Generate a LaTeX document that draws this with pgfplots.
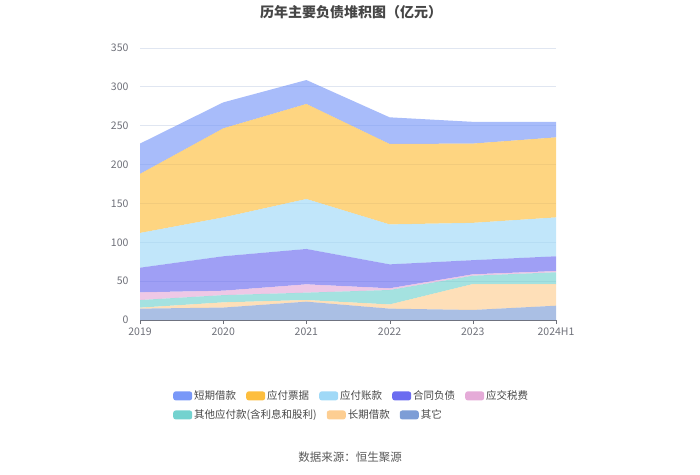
\documentclass[border=0pt]{standalone}
\usepackage{fontspec}
\setmainfont{Noto Sans CJK SC}
\usepackage{pgfplots}
\usepackage{pgfplotstable}
\pgfplotsset{compat=1.18}

\definecolor{cdq}{RGB}{121,152,248}
\definecolor{cpj}{RGB}{253,190,62}
\definecolor{czk}{RGB}{160,217,247}
\definecolor{cht}{RGB}{107,108,240}
\definecolor{csf}{RGB}{229,171,216}
\definecolor{cqy}{RGB}{115,210,207}
\definecolor{ccq}{RGB}{253,206,146}
\definecolor{cqt}{RGB}{125,157,214}
\definecolor{axisgray}{RGB}{110,112,121}
\definecolor{gridgray}{RGB}{224,230,241}
\definecolor{titlegray}{RGB}{70,70,70}

% stacked bottom to top: qita, changqi, qtyf, sf, ht, zk, pj, dq
\pgfplotstableread{
x  qita  changqi  qtyf  sf    ht    zk    pj     dq
0  14.6  1.3      9.8   9.9   31.7  44.7  76.0   39.0
1  16.0  6.7      9.3   5.7   44.3  50.0  114.6  33.4
2  23.6  2.1      9.5   10.7  45.5  64.3  122.3  30.8
3  14.6  5.4      18.6  2.2   30.8  51.4  103.5  34.3
4  12.9  33.4     10.7  1.8   18.2  48.0  102.0  28.0
5  18.4  27.9     15.1  1.6   19.0  50.0  103.0  20.0
}\liab

\pgfplotsset{
  legbox/.style={
    legend image code/.code={\fill[##1,draw=none,rounded corners=2.5pt] (0pt,-4.5pt) rectangle (19pt,4.5pt);},
  },
}

\begin{document}
\begin{tikzpicture}[x=1pt,y=1pt]
\useasboundingbox (0,0) rectangle (700,474);
\begin{axis}[
  at={(140pt,154pt)}, anchor=south west,
  width=416pt, height=272pt, scale only axis,
  xmin=0, xmax=5, ymin=0, ymax=350,
  xtick={0,...,5},
  xticklabels={2019,2020,2021,2022,2023,2024H1},
  ytick={0,50,...,350},
  stack plots=y,
  axis x line=bottom, axis y line=left,
  axis line style={-},
  y axis line style={draw=none},
  x axis line style={color=axisgray},
  ymajorgrids, grid style={color=gridgray, line width=0.8pt},
  tick align=outside, major tick length=4pt,
  xtick style={color=axisgray},
  ytick style={draw=none},
  ticklabel style={font=\fontsize{10.5}{12}\selectfont, text=axisgray},
  yticklabel style={xshift=-4pt},
  /pgf/number format/assume math mode=true,
  legbox,
  legend style={at={(axis description cs:0.0793,-0.279)}, anchor=west,
    draw=none, fill=none, inner sep=0pt,
    font=\fontsize{10.5}{12}\selectfont, text=black!72,
    legend columns=5,
    /tikz/every even column/.append style={column sep=8pt}},
]
\addplot[fill=cqt, fill opacity=0.65, draw=none, forget plot] table[x=x, y=qita] {\liab} \closedcycle;
\addplot[fill=ccq, fill opacity=0.65, draw=none, forget plot] table[x=x, y=changqi] {\liab} \closedcycle;
\addplot[fill=cqy, fill opacity=0.65, draw=none, forget plot] table[x=x, y=qtyf] {\liab} \closedcycle;
\addplot[fill=csf, fill opacity=0.65, draw=none, forget plot] table[x=x, y=sf] {\liab} \closedcycle;
\addplot[fill=cht, fill opacity=0.65, draw=none, forget plot] table[x=x, y=ht] {\liab} \closedcycle;
\addplot[fill=czk, fill opacity=0.65, draw=none, forget plot] table[x=x, y=zk] {\liab} \closedcycle;
\addplot[fill=cpj, fill opacity=0.65, draw=none, forget plot] table[x=x, y=pj] {\liab} \closedcycle;
\addplot[fill=cdq, fill opacity=0.65, draw=none, forget plot] table[x=x, y=dq] {\liab} \closedcycle;
\addlegendimage{fill=cdq}\addlegendentry{短期借款}
\addlegendimage{fill=cpj}\addlegendentry{应付票据}
\addlegendimage{fill=czk}\addlegendentry{应付账款}
\addlegendimage{fill=cht}\addlegendentry{合同负债}
\addlegendimage{fill=csf}\addlegendentry{应交税费}
\end{axis}
\begin{axis}[
  at={(140pt,154pt)}, anchor=south west,
  width=416pt, height=272pt, scale only axis,
  xmin=0, xmax=1, ymin=0, ymax=1, hide axis,
  legbox,
  legend style={at={(axis description cs:0.0793,-0.349)}, anchor=west,
    draw=none, fill=none, inner sep=0pt,
    font=\fontsize{10.5}{12}\selectfont, text=black!72,
    legend columns=3,
    /tikz/every even column/.append style={column sep=8pt}},
]
\addlegendimage{fill=cqy}\addlegendentry{其他应付款(含利息和股利)}
\addlegendimage{fill=ccq}\addlegendentry{长期借款}
\addlegendimage{fill=cqt}\addlegendentry{其它}
\end{axis}
\node[font=\fontsize{14}{16}\selectfont\bfseries, text=titlegray] at (351,462) {历年主要负债堆积图（亿元）};
\node[font=\fontsize{11.5}{13}\selectfont, text=black!65] at (350,17) {数据来源：恒生聚源};
\end{tikzpicture}
\end{document}
